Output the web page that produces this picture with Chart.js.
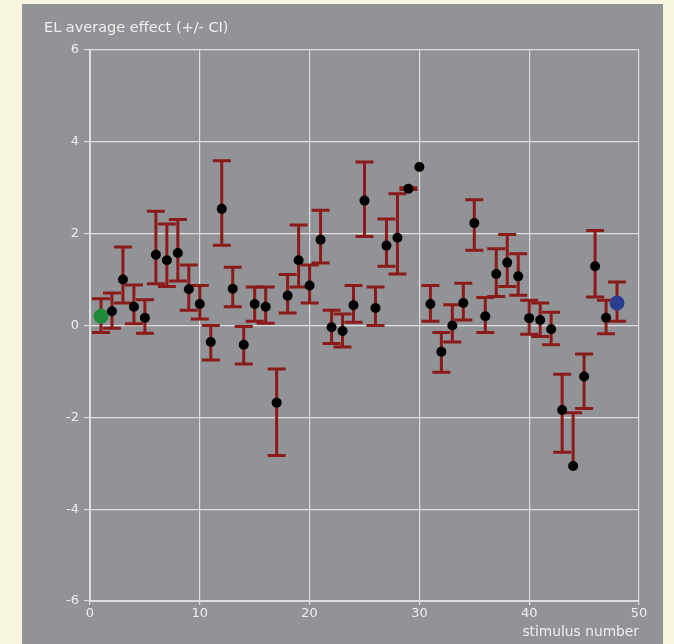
<!DOCTYPE html>
<html>
<head>
<meta charset="utf-8">
<script src="https://cdn.jsdelivr.net/npm/chart.js@4/dist/chart.umd.min.js"></script>
<style>
  html, body { margin: 0; padding: 0; }
  body { width: 674px; height: 644px; background: #f7f4e0; position: relative; overflow: hidden; }
  #panel { position: absolute; left: 22px; top: 4px; width: 641px; height: 640px; background: #929397; }
  #c { position: absolute; left: 0; top: 0; }
</style>
</head>
<body>
<div id="panel"></div>
<canvas id="c" width="674" height="644"></canvas>
<script>
const chartTitle = 'EL average effect (+/- CI)';
const xAxisTitle = 'stimulus number';
const xTicks = [0, 10, 20, 30, 40, 50];
const yTicks = [-6, -4, -2, 0, 2, 4, 6];

const stimulus = [1,2,3,4,5,6,7,8,9,10,11,12,13,14,15,16,17,18,19,20,21,22,23,24,25,26,27,28,29,30,31,32,33,34,35,36,37,38,39,40,41,42,43,44,45,46,47,48];
const effect = [0.20,0.31,1.00,0.41,0.17,1.54,1.42,1.58,0.79,0.47,-0.36,2.54,0.80,-0.42,0.47,0.41,-1.68,0.65,1.42,0.87,1.87,-0.04,-0.12,0.44,2.72,0.38,1.74,1.91,2.98,3.45,0.47,-0.57,0.00,0.49,2.23,0.20,1.12,1.37,1.07,0.16,0.12,-0.08,-1.84,-3.06,-1.11,1.29,0.17,0.49];
const ciLow = [-0.15,-0.06,0.49,0.04,-0.17,0.91,0.85,0.97,0.33,0.14,-0.75,1.75,0.41,-0.84,0.09,0.05,-2.83,0.27,0.84,0.49,1.36,-0.39,-0.47,0.07,1.94,0.00,1.29,1.12,2.96,null,0.09,-1.02,-0.36,0.12,1.64,-0.15,0.63,0.85,0.66,-0.19,-0.24,-0.42,-2.76,null,-1.81,0.62,-0.18,0.09];
const ciHigh = [0.58,0.71,1.71,0.88,0.56,2.49,2.21,2.31,1.32,0.87,0.00,3.59,1.27,-0.02,0.84,0.84,-0.95,1.11,2.19,1.32,2.51,0.33,0.25,0.87,3.56,0.84,2.32,2.87,3.00,null,0.87,-0.15,0.45,0.92,2.74,0.61,1.67,1.98,1.56,0.55,0.49,0.29,-1.06,-1.90,-0.62,2.07,0.55,0.95];
const highlight = {1: '#1d8a3c', 48: '#2b3d8e'};

const TEXT = '#efefef';
const GRID = '#dedede';
const BAR = '#8b1a1a';

const points = stimulus.map((s, i) => ({x: s, y: effect[i]}));
const colors = stimulus.map(s => highlight[s] || '#000000');
const radii = stimulus.map(s => highlight[s] ? 7.5 : 5);

const errorBars = {
  id: 'errorBars',
  beforeDatasetsDraw(chart) {
    const {ctx, scales: {x, y}} = chart;
    ctx.save();
    ctx.strokeStyle = BAR;
    ctx.lineWidth = 3;
    ctx.lineCap = 'butt';
    const cap = 9;
    stimulus.forEach((s, i) => {
      const lo = ciLow[i], hi = ciHigh[i];
      if (lo === null && hi === null) return;
      const px = x.getPixelForValue(s);
      const ym = y.getPixelForValue(effect[i]);
      const yl = lo === null ? ym : y.getPixelForValue(lo);
      const yh = hi === null ? ym : y.getPixelForValue(hi);
      ctx.beginPath();
      ctx.moveTo(px, yl); ctx.lineTo(px, yh);
      if (lo !== null) { ctx.moveTo(px - cap, yl); ctx.lineTo(px + cap, yl); }
      if (hi !== null) { ctx.moveTo(px - cap, yh); ctx.lineTo(px + cap, yh); }
      ctx.stroke();
    });
    ctx.restore();
  }
};

const topTitle = {
  id: 'topTitle',
  afterDraw(chart) {
    const ctx = chart.ctx;
    ctx.save();
    ctx.fillStyle = TEXT;
    ctx.font = '14.5px "DejaVu Sans"';
    ctx.textBaseline = 'middle';
    ctx.textAlign = 'left';
    ctx.fillText(chartTitle, 44, 28);
    ctx.restore();
  }
};

new Chart(document.getElementById('c'), {
  type: 'scatter',
  data: {
    datasets: [{
      data: points,
      pointBackgroundColor: colors,
      pointBorderColor: colors,
      pointBorderWidth: 0,
      pointRadius: radii,
      pointHoverRadius: radii,
      showLine: false
    }]
  },
  options: {
    responsive: false,
    animation: false,
    devicePixelRatio: 1,
    layout: { padding: { top: 50, right: 35, left: 0, bottom: 0 } },
    plugins: { legend: { display: false }, tooltip: { enabled: false } },
    scales: {
      x: {
        type: 'linear',
        min: xTicks[0], max: xTicks[xTicks.length - 1],
        afterBuildTicks: s => { s.ticks = xTicks.map(v => ({value: v})); },
        afterFit: s => { s.height = 43; },
        ticks: { color: TEXT, font: { family: 'DejaVu Sans', size: 13 }, padding: 1, maxRotation: 0 },
        grid: { color: GRID, lineWidth: 1.2, tickLength: 4, tickColor: GRID },
        border: { color: GRID, width: 2 },
        title: { display: true, text: xAxisTitle, align: 'end', color: TEXT, font: { family: 'DejaVu Sans', size: 13.8 }, padding: { top: 0, bottom: 3 } }
      },
      y: {
        type: 'linear',
        min: yTicks[0], max: yTicks[yTicks.length - 1],
        afterBuildTicks: s => { s.ticks = yTicks.map(v => ({value: v})); },
        afterFit: s => { s.width = 90; },
        ticks: { color: TEXT, font: { family: 'DejaVu Sans', size: 13 }, padding: 5 },
        grid: { color: GRID, lineWidth: 1.2, tickLength: 6, tickColor: GRID },
        border: { color: GRID, width: 2 }
      }
    }
  },
  plugins: [errorBars, topTitle]
});
</script>
</body>
</html>
